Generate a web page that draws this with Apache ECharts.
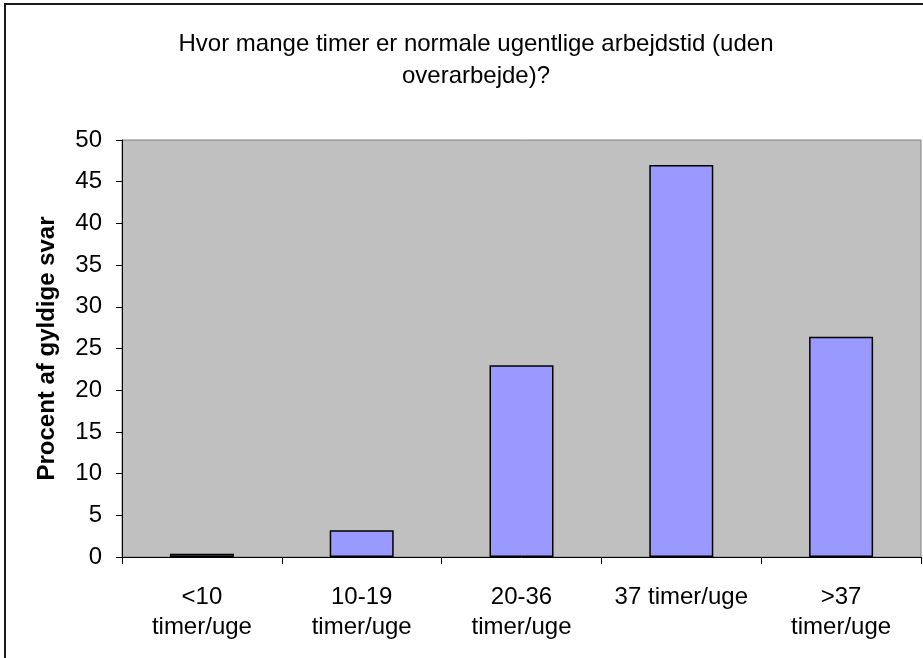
<!DOCTYPE html>
<html>
<head>
<meta charset="utf-8">
<script src="https://cdn.jsdelivr.net/npm/echarts@6/dist/echarts.min.js"></script>
<style>
html,body{margin:0;padding:0;background:#fff;}
#c{width:923px;height:658px;}
</style>
</head>
<body>
<div id="c"></div>
<script>
const titleText = 'Hvor mange timer er normale ugentlige arbejdstid (uden\noverarbejde)?';
const yAxisName = 'Procent af gyldige svar';
const categories = ['<10\ntimer/uge', '10-19\ntimer/uge', '20-36\ntimer/uge', '37 timer/uge', '>37\ntimer/uge'];
const values = [0.4, 3.2, 23.0, 47.0, 26.4];
const yMin = 0, yMax = 50, yStep = 5;

const chart = echarts.init(document.getElementById('c'), null, {renderer: 'canvas'});
const font = 'Arial, "Liberation Sans", sans-serif';
chart.setOption({
  animation: false,
  backgroundColor: '#ffffff',
  graphic: [{
    type: 'rect',
    shape: {x: 5, y: 4, width: 940, height: 680},
    style: {fill: 'none', stroke: '#1a1a1a', lineWidth: 2},
    silent: true, z: 100
  }],
  title: {
    text: titleText,
    left: 471, top: 23, textAlign: 'center',
    textStyle: {fontFamily: font, fontSize: 24, fontWeight: 'normal', color: '#000', lineHeight: 32}
  },
  grid: {
    left: 122, top: 140, width: 799, height: 417,
    show: true, backgroundColor: '#C0C0C0', borderColor: '#808080', borderWidth: 1
  },
  xAxis: {
    type: 'category',
    data: categories,
    axisLine: {show: true, lineStyle: {color: '#000', width: 1}},
    axisTick: {show: true, length: 7, lineStyle: {color: '#000'}},
    axisLabel: {fontFamily: font, fontSize: 24, color: '#000', lineHeight: 30, margin: 25, interval: 0}
  },
  yAxis: {
    type: 'value',
    min: yMin, max: yMax, interval: yStep,
    name: yAxisName,
    nameLocation: 'middle',
    nameGap: 63,
    nameTextStyle: {fontFamily: font, fontSize: 24, fontWeight: 'bold', color: '#000'},
    axisLine: {show: true, lineStyle: {color: '#000', width: 1}},
    axisTick: {show: true, length: 6, lineStyle: {color: '#000'}},
    axisLabel: {fontFamily: font, fontSize: 24, color: '#000', margin: 20},
    splitLine: {show: false}
  },
  series: [{
    type: 'bar',
    data: values,
    barWidth: 64,
    itemStyle: {color: '#9999FF', borderColor: '#000', borderWidth: 1.5}
  }]
});
</script>
</body>
</html>
